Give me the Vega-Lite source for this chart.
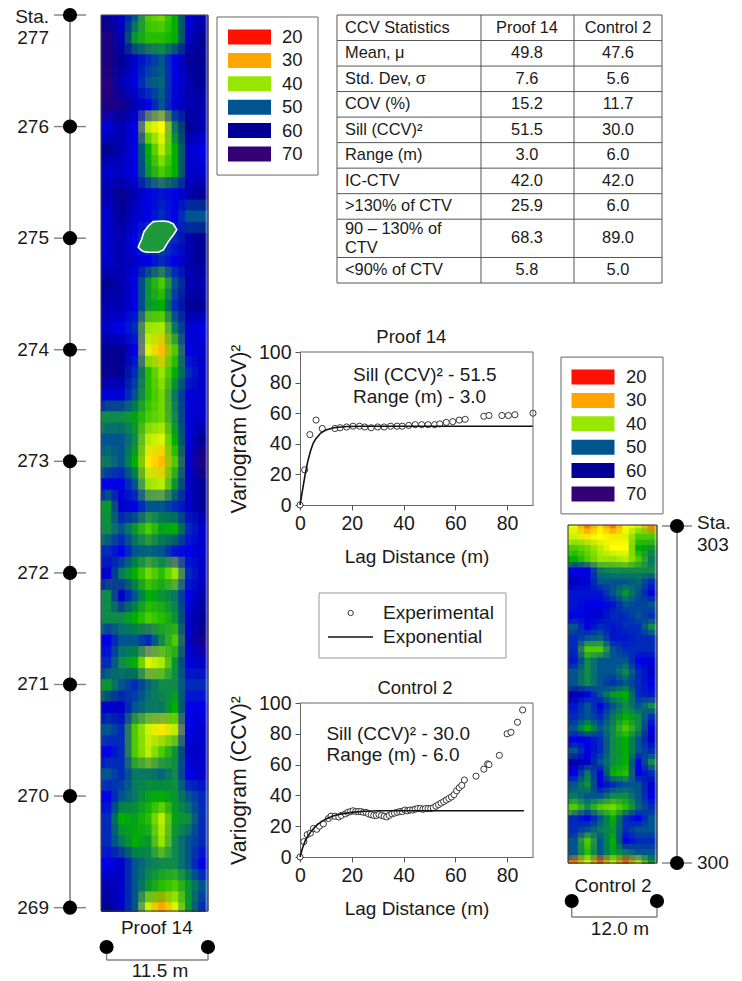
{"$schema":"https://vega.github.io/schema/vega-lite/v6.json","width":742,"height":981,"autosize":"none","padding":0,"background":"white",
"config":{"font":"Liberation Sans","view":{"stroke":null},"text":{"fontSize":19,"color":"#1a1a1a"},"axis":{"grid":false,"labelFlush":false,"labelFont":"Liberation Sans","titleFont":"Liberation Sans","labelFontSize":19.5,"titleFontSize":19,"titleFontWeight":"normal","labelColor":"#1a1a1a","titleColor":"#1a1a1a","tickColor":"#555","domainColor":"#666","tickSize":5,"labelPadding":4}},
"datasets":{
"proof":[
{"x":0.7,"y":277,"v":60},{"x":2.2,"y":277,"v":56},{"x":3.6,"y":277,"v":50},{"x":5.0,"y":277,"v":42},{"x":6.5,"y":277,"v":41},{"x":7.9,"y":277,"v":44},{"x":9.3,"y":277,"v":55},{"x":10.8,"y":277,"v":58},
{"x":0.7,"y":276.8,"v":66},{"x":2.2,"y":276.8,"v":58},{"x":3.6,"y":276.8,"v":46},{"x":5.0,"y":276.8,"v":43},{"x":6.5,"y":276.8,"v":43},{"x":7.9,"y":276.8,"v":44},{"x":9.3,"y":276.8,"v":56},{"x":10.8,"y":276.8,"v":60},
{"x":0.7,"y":276.6,"v":66},{"x":2.2,"y":276.6,"v":60},{"x":3.6,"y":276.6,"v":56},{"x":5.0,"y":276.6,"v":52},{"x":6.5,"y":276.6,"v":50},{"x":7.9,"y":276.6,"v":54},{"x":9.3,"y":276.6,"v":60},{"x":10.8,"y":276.6,"v":60},
{"x":0.7,"y":276.4,"v":68},{"x":2.2,"y":276.4,"v":58},{"x":3.6,"y":276.4,"v":54},{"x":5.0,"y":276.4,"v":50},{"x":6.5,"y":276.4,"v":49},{"x":7.9,"y":276.4,"v":54},{"x":9.3,"y":276.4,"v":58},{"x":10.8,"y":276.4,"v":60},
{"x":0.7,"y":276.2,"v":66},{"x":2.2,"y":276.2,"v":64},{"x":3.6,"y":276.2,"v":58},{"x":5.0,"y":276.2,"v":54},{"x":6.5,"y":276.2,"v":50},{"x":7.9,"y":276.2,"v":55},{"x":9.3,"y":276.2,"v":58},{"x":10.8,"y":276.2,"v":58},
{"x":0.7,"y":276,"v":55},{"x":2.2,"y":276,"v":58},{"x":3.6,"y":276,"v":54},{"x":5.0,"y":276,"v":38},{"x":6.5,"y":276,"v":34},{"x":7.9,"y":276,"v":48},{"x":9.3,"y":276,"v":60},{"x":10.8,"y":276,"v":58},
{"x":0.7,"y":275.8,"v":60},{"x":2.2,"y":275.8,"v":58},{"x":3.6,"y":275.8,"v":54},{"x":5.0,"y":275.8,"v":44},{"x":6.5,"y":275.8,"v":38},{"x":7.9,"y":275.8,"v":44},{"x":9.3,"y":275.8,"v":56},{"x":10.8,"y":275.8,"v":54},
{"x":0.7,"y":275.6,"v":56},{"x":2.2,"y":275.6,"v":56},{"x":3.6,"y":275.6,"v":54},{"x":5.0,"y":275.6,"v":46},{"x":6.5,"y":275.6,"v":42},{"x":7.9,"y":275.6,"v":44},{"x":9.3,"y":275.6,"v":56},{"x":10.8,"y":275.6,"v":56},
{"x":0.7,"y":275.4,"v":58},{"x":2.2,"y":275.4,"v":62},{"x":3.6,"y":275.4,"v":58},{"x":5.0,"y":275.4,"v":54},{"x":6.5,"y":275.4,"v":53},{"x":7.9,"y":275.4,"v":54},{"x":9.3,"y":275.4,"v":58},{"x":10.8,"y":275.4,"v":60},
{"x":0.7,"y":275.2,"v":56},{"x":2.2,"y":275.2,"v":60},{"x":3.6,"y":275.2,"v":56},{"x":5.0,"y":275.2,"v":54},{"x":6.5,"y":275.2,"v":52},{"x":7.9,"y":275.2,"v":54},{"x":9.3,"y":275.2,"v":50},{"x":10.8,"y":275.2,"v":50},
{"x":0.7,"y":275,"v":56},{"x":2.2,"y":275,"v":58},{"x":3.6,"y":275,"v":54},{"x":5.0,"y":275,"v":50},{"x":6.5,"y":275,"v":50},{"x":7.9,"y":275,"v":52},{"x":9.3,"y":275,"v":58},{"x":10.8,"y":275,"v":60},
{"x":0.7,"y":274.8,"v":56},{"x":2.2,"y":274.8,"v":58},{"x":3.6,"y":274.8,"v":56},{"x":5.0,"y":274.8,"v":54},{"x":6.5,"y":274.8,"v":52},{"x":7.9,"y":274.8,"v":54},{"x":9.3,"y":274.8,"v":58},{"x":10.8,"y":274.8,"v":60},
{"x":0.7,"y":274.6,"v":60},{"x":2.2,"y":274.6,"v":58},{"x":3.6,"y":274.6,"v":54},{"x":5.0,"y":274.6,"v":46},{"x":6.5,"y":274.6,"v":42},{"x":7.9,"y":274.6,"v":50},{"x":9.3,"y":274.6,"v":58},{"x":10.8,"y":274.6,"v":58},
{"x":0.7,"y":274.4,"v":58},{"x":2.2,"y":274.4,"v":58},{"x":3.6,"y":274.4,"v":54},{"x":5.0,"y":274.4,"v":46},{"x":6.5,"y":274.4,"v":44},{"x":7.9,"y":274.4,"v":52},{"x":9.3,"y":274.4,"v":60},{"x":10.8,"y":274.4,"v":60},
{"x":0.7,"y":274.2,"v":56},{"x":2.2,"y":274.2,"v":54},{"x":3.6,"y":274.2,"v":52},{"x":5.0,"y":274.2,"v":40},{"x":6.5,"y":274.2,"v":39},{"x":7.9,"y":274.2,"v":48},{"x":9.3,"y":274.2,"v":56},{"x":10.8,"y":274.2,"v":54},
{"x":0.7,"y":274,"v":60},{"x":2.2,"y":274,"v":60},{"x":3.6,"y":274,"v":54},{"x":5.0,"y":274,"v":36},{"x":6.5,"y":274,"v":31},{"x":7.9,"y":274,"v":42},{"x":9.3,"y":274,"v":54},{"x":10.8,"y":274,"v":56},
{"x":0.7,"y":273.8,"v":62},{"x":2.2,"y":273.8,"v":60},{"x":3.6,"y":273.8,"v":52},{"x":5.0,"y":273.8,"v":43},{"x":6.5,"y":273.8,"v":40},{"x":7.9,"y":273.8,"v":44},{"x":9.3,"y":273.8,"v":52},{"x":10.8,"y":273.8,"v":56},
{"x":0.7,"y":273.6,"v":55},{"x":2.2,"y":273.6,"v":55},{"x":3.6,"y":273.6,"v":50},{"x":5.0,"y":273.6,"v":43},{"x":6.5,"y":273.6,"v":41},{"x":7.9,"y":273.6,"v":48},{"x":9.3,"y":273.6,"v":55},{"x":10.8,"y":273.6,"v":56},
{"x":0.7,"y":273.4,"v":47},{"x":2.2,"y":273.4,"v":47},{"x":3.6,"y":273.4,"v":45},{"x":5.0,"y":273.4,"v":42},{"x":6.5,"y":273.4,"v":41},{"x":7.9,"y":273.4,"v":47},{"x":9.3,"y":273.4,"v":55},{"x":10.8,"y":273.4,"v":56},
{"x":0.7,"y":273.2,"v":50},{"x":2.2,"y":273.2,"v":50},{"x":3.6,"y":273.2,"v":47},{"x":5.0,"y":273.2,"v":38},{"x":6.5,"y":273.2,"v":36},{"x":7.9,"y":273.2,"v":44},{"x":9.3,"y":273.2,"v":55},{"x":10.8,"y":273.2,"v":60},
{"x":0.7,"y":273,"v":48},{"x":2.2,"y":273,"v":50},{"x":3.6,"y":273,"v":44},{"x":5.0,"y":273,"v":33},{"x":6.5,"y":273,"v":31},{"x":7.9,"y":273,"v":42},{"x":9.3,"y":273,"v":56},{"x":10.8,"y":273,"v":66},
{"x":0.7,"y":272.8,"v":54},{"x":2.2,"y":272.8,"v":54},{"x":3.6,"y":272.8,"v":50},{"x":5.0,"y":272.8,"v":40},{"x":6.5,"y":272.8,"v":38},{"x":7.9,"y":272.8,"v":46},{"x":9.3,"y":272.8,"v":56},{"x":10.8,"y":272.8,"v":60},
{"x":0.7,"y":272.6,"v":46},{"x":2.2,"y":272.6,"v":56},{"x":3.6,"y":272.6,"v":54},{"x":5.0,"y":272.6,"v":50},{"x":6.5,"y":272.6,"v":50},{"x":7.9,"y":272.6,"v":52},{"x":9.3,"y":272.6,"v":56},{"x":10.8,"y":272.6,"v":60},
{"x":0.7,"y":272.4,"v":47},{"x":2.2,"y":272.4,"v":50},{"x":3.6,"y":272.4,"v":46},{"x":5.0,"y":272.4,"v":42},{"x":6.5,"y":272.4,"v":45},{"x":7.9,"y":272.4,"v":44},{"x":9.3,"y":272.4,"v":52},{"x":10.8,"y":272.4,"v":56},
{"x":0.7,"y":272.2,"v":52},{"x":2.2,"y":272.2,"v":54},{"x":3.6,"y":272.2,"v":50},{"x":5.0,"y":272.2,"v":49},{"x":6.5,"y":272.2,"v":50},{"x":7.9,"y":272.2,"v":53},{"x":9.3,"y":272.2,"v":54},{"x":10.8,"y":272.2,"v":56},
{"x":0.7,"y":272,"v":56},{"x":2.2,"y":272,"v":48},{"x":3.6,"y":272,"v":44},{"x":5.0,"y":272,"v":41},{"x":6.5,"y":272,"v":43},{"x":7.9,"y":272,"v":40},{"x":9.3,"y":272,"v":52},{"x":10.8,"y":272,"v":56},
{"x":0.7,"y":271.8,"v":47},{"x":2.2,"y":271.8,"v":56},{"x":3.6,"y":271.8,"v":50},{"x":5.0,"y":271.8,"v":44},{"x":6.5,"y":271.8,"v":46},{"x":7.9,"y":271.8,"v":48},{"x":9.3,"y":271.8,"v":54},{"x":10.8,"y":271.8,"v":58},
{"x":0.7,"y":271.6,"v":47},{"x":2.2,"y":271.6,"v":47},{"x":3.6,"y":271.6,"v":44},{"x":5.0,"y":271.6,"v":42},{"x":6.5,"y":271.6,"v":43},{"x":7.9,"y":271.6,"v":46},{"x":9.3,"y":271.6,"v":56},{"x":10.8,"y":271.6,"v":60},
{"x":0.7,"y":271.4,"v":54},{"x":2.2,"y":271.4,"v":50},{"x":3.6,"y":271.4,"v":50},{"x":5.0,"y":271.4,"v":52},{"x":6.5,"y":271.4,"v":47},{"x":7.9,"y":271.4,"v":42},{"x":9.3,"y":271.4,"v":56},{"x":10.8,"y":271.4,"v":64},
{"x":0.7,"y":271.2,"v":52},{"x":2.2,"y":271.2,"v":47},{"x":3.6,"y":271.2,"v":44},{"x":5.0,"y":271.2,"v":36},{"x":6.5,"y":271.2,"v":39},{"x":7.9,"y":271.2,"v":46},{"x":9.3,"y":271.2,"v":55},{"x":10.8,"y":271.2,"v":56},
{"x":0.7,"y":271,"v":46},{"x":2.2,"y":271,"v":50},{"x":3.6,"y":271,"v":52},{"x":5.0,"y":271,"v":49},{"x":6.5,"y":271,"v":47},{"x":7.9,"y":271,"v":47},{"x":9.3,"y":271,"v":52},{"x":10.8,"y":271,"v":52},
{"x":0.7,"y":270.8,"v":56},{"x":2.2,"y":270.8,"v":56},{"x":3.6,"y":270.8,"v":50},{"x":5.0,"y":270.8,"v":48},{"x":6.5,"y":270.8,"v":48},{"x":7.9,"y":270.8,"v":44},{"x":9.3,"y":270.8,"v":54},{"x":10.8,"y":270.8,"v":54},
{"x":0.7,"y":270.6,"v":50},{"x":2.2,"y":270.6,"v":52},{"x":3.6,"y":270.6,"v":42},{"x":5.0,"y":270.6,"v":37},{"x":6.5,"y":270.6,"v":33},{"x":7.9,"y":270.6,"v":38},{"x":9.3,"y":270.6,"v":54},{"x":10.8,"y":270.6,"v":56},
{"x":0.7,"y":270.4,"v":54},{"x":2.2,"y":270.4,"v":52},{"x":3.6,"y":270.4,"v":42},{"x":5.0,"y":270.4,"v":38},{"x":6.5,"y":270.4,"v":42},{"x":7.9,"y":270.4,"v":46},{"x":9.3,"y":270.4,"v":56},{"x":10.8,"y":270.4,"v":56},
{"x":0.7,"y":270.2,"v":50},{"x":2.2,"y":270.2,"v":52},{"x":3.6,"y":270.2,"v":48},{"x":5.0,"y":270.2,"v":48},{"x":6.5,"y":270.2,"v":49},{"x":7.9,"y":270.2,"v":47},{"x":9.3,"y":270.2,"v":54},{"x":10.8,"y":270.2,"v":56},
{"x":0.7,"y":270,"v":54},{"x":2.2,"y":270,"v":50},{"x":3.6,"y":270,"v":48},{"x":5.0,"y":270,"v":45},{"x":6.5,"y":270,"v":44},{"x":7.9,"y":270,"v":46},{"x":9.3,"y":270,"v":50},{"x":10.8,"y":270,"v":52},
{"x":0.7,"y":269.8,"v":52},{"x":2.2,"y":269.8,"v":44},{"x":3.6,"y":269.8,"v":45},{"x":5.0,"y":269.8,"v":43},{"x":6.5,"y":269.8,"v":38},{"x":7.9,"y":269.8,"v":45},{"x":9.3,"y":269.8,"v":47},{"x":10.8,"y":269.8,"v":52},
{"x":0.7,"y":269.6,"v":52},{"x":2.2,"y":269.6,"v":48},{"x":3.6,"y":269.6,"v":44},{"x":5.0,"y":269.6,"v":46},{"x":6.5,"y":269.6,"v":40},{"x":7.9,"y":269.6,"v":47},{"x":9.3,"y":269.6,"v":50},{"x":10.8,"y":269.6,"v":52},
{"x":0.7,"y":269.4,"v":54},{"x":2.2,"y":269.4,"v":56},{"x":3.6,"y":269.4,"v":50},{"x":5.0,"y":269.4,"v":48},{"x":6.5,"y":269.4,"v":47},{"x":7.9,"y":269.4,"v":47},{"x":9.3,"y":269.4,"v":50},{"x":10.8,"y":269.4,"v":54},
{"x":0.7,"y":269.2,"v":58},{"x":2.2,"y":269.2,"v":56},{"x":3.6,"y":269.2,"v":50},{"x":5.0,"y":269.2,"v":46},{"x":6.5,"y":269.2,"v":43},{"x":7.9,"y":269.2,"v":42},{"x":9.3,"y":269.2,"v":46},{"x":10.8,"y":269.2,"v":50},
{"x":0.7,"y":269,"v":60},{"x":2.2,"y":269,"v":56},{"x":3.6,"y":269,"v":50},{"x":5.0,"y":269,"v":37},{"x":6.5,"y":269,"v":30},{"x":7.9,"y":269,"v":36},{"x":9.3,"y":269,"v":46},{"x":10.8,"y":269,"v":52}
],
"control":[
{"x":0.9,"y":303,"v":35},{"x":2.6,"y":303,"v":27},{"x":4.3,"y":303,"v":33},{"x":6,"y":303,"v":27},{"x":7.7,"y":303,"v":34},{"x":9.4,"y":303,"v":37},{"x":11.1,"y":303,"v":28},
{"x":0.9,"y":302.9,"v":37},{"x":2.6,"y":302.9,"v":33},{"x":4.3,"y":302.9,"v":34},{"x":6,"y":302.9,"v":33},{"x":7.7,"y":302.9,"v":36},{"x":9.4,"y":302.9,"v":42},{"x":11.1,"y":302.9,"v":42},
{"x":0.9,"y":302.8,"v":42},{"x":2.6,"y":302.8,"v":41},{"x":4.3,"y":302.8,"v":38},{"x":6,"y":302.8,"v":34},{"x":7.7,"y":302.8,"v":34},{"x":9.4,"y":302.8,"v":44},{"x":11.1,"y":302.8,"v":46},
{"x":0.9,"y":302.7,"v":44},{"x":2.6,"y":302.7,"v":42},{"x":4.3,"y":302.7,"v":40},{"x":6,"y":302.7,"v":40},{"x":7.7,"y":302.7,"v":38},{"x":9.4,"y":302.7,"v":42},{"x":11.1,"y":302.7,"v":48},
{"x":0.9,"y":302.6,"v":54},{"x":2.6,"y":302.6,"v":54},{"x":4.3,"y":302.6,"v":48},{"x":6,"y":302.6,"v":47},{"x":7.7,"y":302.6,"v":47},{"x":9.4,"y":302.6,"v":47},{"x":11.1,"y":302.6,"v":47},
{"x":0.9,"y":302.5,"v":57},{"x":2.6,"y":302.5,"v":55},{"x":4.3,"y":302.5,"v":50},{"x":6,"y":302.5,"v":50},{"x":7.7,"y":302.5,"v":50},{"x":9.4,"y":302.5,"v":49},{"x":11.1,"y":302.5,"v":52},
{"x":0.9,"y":302.4,"v":53},{"x":2.6,"y":302.4,"v":53},{"x":4.3,"y":302.4,"v":53},{"x":6,"y":302.4,"v":50},{"x":7.7,"y":302.4,"v":46},{"x":9.4,"y":302.4,"v":50},{"x":11.1,"y":302.4,"v":55},
{"x":0.9,"y":302.3,"v":53},{"x":2.6,"y":302.3,"v":54},{"x":4.3,"y":302.3,"v":54},{"x":6,"y":302.3,"v":53},{"x":7.7,"y":302.3,"v":50},{"x":9.4,"y":302.3,"v":51},{"x":11.1,"y":302.3,"v":50},
{"x":0.9,"y":302.2,"v":54},{"x":2.6,"y":302.2,"v":55},{"x":4.3,"y":302.2,"v":56},{"x":6,"y":302.2,"v":52},{"x":7.7,"y":302.2,"v":52},{"x":9.4,"y":302.2,"v":50},{"x":11.1,"y":302.2,"v":52},
{"x":0.9,"y":302.1,"v":50},{"x":2.6,"y":302.1,"v":54},{"x":4.3,"y":302.1,"v":52},{"x":6,"y":302.1,"v":53},{"x":7.7,"y":302.1,"v":52},{"x":9.4,"y":302.1,"v":52},{"x":11.1,"y":302.1,"v":47},
{"x":0.9,"y":302,"v":52},{"x":2.6,"y":302,"v":50},{"x":4.3,"y":302,"v":49},{"x":6,"y":302,"v":53},{"x":7.7,"y":302,"v":53},{"x":9.4,"y":302,"v":52},{"x":11.1,"y":302,"v":52},
{"x":0.9,"y":301.9,"v":52},{"x":2.6,"y":301.9,"v":42},{"x":4.3,"y":301.9,"v":42},{"x":6,"y":301.9,"v":50},{"x":7.7,"y":301.9,"v":52},{"x":9.4,"y":301.9,"v":52},{"x":11.1,"y":301.9,"v":52},
{"x":0.9,"y":301.8,"v":53},{"x":2.6,"y":301.8,"v":47},{"x":4.3,"y":301.8,"v":50},{"x":6,"y":301.8,"v":50},{"x":7.7,"y":301.8,"v":50},{"x":9.4,"y":301.8,"v":54},{"x":11.1,"y":301.8,"v":55},
{"x":0.9,"y":301.7,"v":50},{"x":2.6,"y":301.7,"v":47},{"x":4.3,"y":301.7,"v":50},{"x":6,"y":301.7,"v":50},{"x":7.7,"y":301.7,"v":47},{"x":9.4,"y":301.7,"v":52},{"x":11.1,"y":301.7,"v":56},
{"x":0.9,"y":301.6,"v":50},{"x":2.6,"y":301.6,"v":47},{"x":4.3,"y":301.6,"v":50},{"x":6,"y":301.6,"v":52},{"x":7.7,"y":301.6,"v":50},{"x":9.4,"y":301.6,"v":52},{"x":11.1,"y":301.6,"v":54},
{"x":0.9,"y":301.5,"v":58},{"x":2.6,"y":301.5,"v":54},{"x":4.3,"y":301.5,"v":50},{"x":6,"y":301.5,"v":46},{"x":7.7,"y":301.5,"v":44},{"x":9.4,"y":301.5,"v":52},{"x":11.1,"y":301.5,"v":53},
{"x":0.9,"y":301.4,"v":53},{"x":2.6,"y":301.4,"v":50},{"x":4.3,"y":301.4,"v":54},{"x":6,"y":301.4,"v":50},{"x":7.7,"y":301.4,"v":47},{"x":9.4,"y":301.4,"v":50},{"x":11.1,"y":301.4,"v":47},
{"x":0.9,"y":301.3,"v":52},{"x":2.6,"y":301.3,"v":50},{"x":4.3,"y":301.3,"v":52},{"x":6,"y":301.3,"v":48},{"x":7.7,"y":301.3,"v":44},{"x":9.4,"y":301.3,"v":47},{"x":11.1,"y":301.3,"v":52},
{"x":0.9,"y":301.2,"v":50},{"x":2.6,"y":301.2,"v":44},{"x":4.3,"y":301.2,"v":50},{"x":6,"y":301.2,"v":47},{"x":7.7,"y":301.2,"v":42},{"x":9.4,"y":301.2,"v":47},{"x":11.1,"y":301.2,"v":55},
{"x":0.9,"y":301.1,"v":54},{"x":2.6,"y":301.1,"v":54},{"x":4.3,"y":301.1,"v":52},{"x":6,"y":301.1,"v":47},{"x":7.7,"y":301.1,"v":44},{"x":9.4,"y":301.1,"v":50},{"x":11.1,"y":301.1,"v":56},
{"x":0.9,"y":301,"v":50},{"x":2.6,"y":301,"v":54},{"x":4.3,"y":301,"v":52},{"x":6,"y":301,"v":47},{"x":7.7,"y":301,"v":44},{"x":9.4,"y":301,"v":50},{"x":11.1,"y":301,"v":52},
{"x":0.9,"y":300.9,"v":58},{"x":2.6,"y":300.9,"v":56},{"x":4.3,"y":300.9,"v":50},{"x":6,"y":300.9,"v":47},{"x":7.7,"y":300.9,"v":44},{"x":9.4,"y":300.9,"v":54},{"x":11.1,"y":300.9,"v":47},
{"x":0.9,"y":300.8,"v":54},{"x":2.6,"y":300.8,"v":48},{"x":4.3,"y":300.8,"v":54},{"x":6,"y":300.8,"v":44},{"x":7.7,"y":300.8,"v":43},{"x":9.4,"y":300.8,"v":54},{"x":11.1,"y":300.8,"v":52},
{"x":0.9,"y":300.7,"v":50},{"x":2.6,"y":300.7,"v":46},{"x":4.3,"y":300.7,"v":55},{"x":6,"y":300.7,"v":52},{"x":7.7,"y":300.7,"v":50},{"x":9.4,"y":300.7,"v":50},{"x":11.1,"y":300.7,"v":56},
{"x":0.9,"y":300.6,"v":48},{"x":2.6,"y":300.6,"v":50},{"x":4.3,"y":300.6,"v":50},{"x":6,"y":300.6,"v":47},{"x":7.7,"y":300.6,"v":47},{"x":9.4,"y":300.6,"v":50},{"x":11.1,"y":300.6,"v":54},
{"x":0.9,"y":300.5,"v":42},{"x":2.6,"y":300.5,"v":47},{"x":4.3,"y":300.5,"v":42},{"x":6,"y":300.5,"v":41},{"x":7.7,"y":300.5,"v":43},{"x":9.4,"y":300.5,"v":49},{"x":11.1,"y":300.5,"v":52},
{"x":0.9,"y":300.4,"v":52},{"x":2.6,"y":300.4,"v":54},{"x":4.3,"y":300.4,"v":50},{"x":6,"y":300.4,"v":44},{"x":7.7,"y":300.4,"v":52},{"x":9.4,"y":300.4,"v":54},{"x":11.1,"y":300.4,"v":50},
{"x":0.9,"y":300.3,"v":52},{"x":2.6,"y":300.3,"v":50},{"x":4.3,"y":300.3,"v":48},{"x":6,"y":300.3,"v":46},{"x":7.7,"y":300.3,"v":52},{"x":9.4,"y":300.3,"v":50},{"x":11.1,"y":300.3,"v":50},
{"x":0.9,"y":300.2,"v":50},{"x":2.6,"y":300.2,"v":42},{"x":4.3,"y":300.2,"v":50},{"x":6,"y":300.2,"v":44},{"x":7.7,"y":300.2,"v":54},{"x":9.4,"y":300.2,"v":52},{"x":11.1,"y":300.2,"v":52},
{"x":0.9,"y":300.1,"v":50},{"x":2.6,"y":300.1,"v":43},{"x":4.3,"y":300.1,"v":50},{"x":6,"y":300.1,"v":45},{"x":7.7,"y":300.1,"v":48},{"x":9.4,"y":300.1,"v":50},{"x":11.1,"y":300.1,"v":50},
{"x":0.9,"y":300,"v":27},{"x":2.6,"y":300,"v":36},{"x":4.3,"y":300,"v":25},{"x":6,"y":300,"v":37},{"x":7.7,"y":300,"v":25},{"x":9.4,"y":300,"v":38},{"x":11.1,"y":300,"v":46}
],
"levels":[{"lev":20},{"lev":30},{"lev":40},{"lev":50},{"lev":60},{"lev":70}],
"exp1":[{"lag":0,"g":0},{"lag":1,"g":10},{"lag":2,"g":20},{"lag":3,"g":28.5},{"lag":4,"g":35},{"lag":5,"g":40},{"lag":6,"g":43},{"lag":8,"g":47},{"lag":10,"g":49},{"lag":13,"g":50.5},{"lag":18,"g":51.3},{"lag":25,"g":51.5},{"lag":90,"g":51.5}],
"obs1":[{"lag":0,"g":0},{"lag":1.8,"g":23},{"lag":3.8,"g":46},{"lag":6.2,"g":55.5},{"lag":8.6,"g":50},{"lag":13.5,"g":50},{"lag":15.5,"g":50.5},{"lag":18,"g":51},{"lag":20.5,"g":51.5},{"lag":23,"g":51.5},{"lag":25,"g":51},{"lag":27.5,"g":50.5},{"lag":30,"g":51},{"lag":32.5,"g":51},{"lag":35,"g":51.5},{"lag":37.5,"g":51.5},{"lag":39.5,"g":51.5},{"lag":42,"g":52},{"lag":44.5,"g":52.5},{"lag":47,"g":52.5},{"lag":49.5,"g":52.5},{"lag":52,"g":52.5},{"lag":54,"g":53},{"lag":56.5,"g":54},{"lag":59,"g":54.5},{"lag":61.5,"g":55.5},{"lag":63.8,"g":56},{"lag":71,"g":58},{"lag":73,"g":58.5},{"lag":78,"g":58.5},{"lag":80.5,"g":58.5},{"lag":83,"g":59},{"lag":90,"g":60}],
"exp2":[{"lag":0,"g":0},{"lag":1,"g":6},{"lag":2,"g":10.5},{"lag":3,"g":13.5},{"lag":4,"g":16},{"lag":6,"g":20},{"lag":8,"g":22.7},{"lag":10,"g":24.7},{"lag":13,"g":26.8},{"lag":16,"g":28},{"lag":20,"g":29},{"lag":25,"g":29.7},{"lag":30,"g":30},{"lag":86.5,"g":30}],
"obs2":[{"lag":0,"g":0},{"lag":1.5,"g":10},{"lag":2.8,"g":14.5},{"lag":4,"g":15.5},{"lag":5.2,"g":18.5},{"lag":6.5,"g":18},{"lag":7.5,"g":20},{"lag":9,"g":21.5},{"lag":11,"g":25},{"lag":12,"g":26.5},{"lag":13.5,"g":26.5},{"lag":15,"g":26},{"lag":16,"g":27},{"lag":17.5,"g":28},{"lag":18.5,"g":29},{"lag":19.5,"g":29.5},{"lag":20.5,"g":30},{"lag":21.5,"g":29.5},{"lag":22.5,"g":29.5},{"lag":23.5,"g":29.5},{"lag":24.5,"g":29},{"lag":25.5,"g":29},{"lag":26.5,"g":28},{"lag":27.5,"g":27.5},{"lag":28.5,"g":27},{"lag":29.5,"g":27},{"lag":30.5,"g":27.5},{"lag":31.5,"g":27},{"lag":32.5,"g":26.5},{"lag":33.5,"g":26},{"lag":34.5,"g":27},{"lag":35.5,"g":28},{"lag":36.5,"g":28.5},{"lag":37.5,"g":29},{"lag":38.5,"g":29.5},{"lag":39.5,"g":29.5},{"lag":40.5,"g":30.5},{"lag":41.5,"g":30},{"lag":42.5,"g":30.5},{"lag":43.5,"g":30.5},{"lag":44.5,"g":31},{"lag":45.5,"g":31.5},{"lag":46.5,"g":31.5},{"lag":47.5,"g":31},{"lag":48.5,"g":31.5},{"lag":49.5,"g":31.5},{"lag":50.5,"g":31.5},{"lag":51.5,"g":32},{"lag":52.5,"g":33},{"lag":53.5,"g":34},{"lag":54.5,"g":35},{"lag":55.5,"g":36},{"lag":56.5,"g":37},{"lag":57.5,"g":38},{"lag":58.5,"g":39},{"lag":59.5,"g":40.5},{"lag":60.5,"g":43},{"lag":61.5,"g":45},{"lag":62.5,"g":46.5},{"lag":63.5,"g":50},{"lag":68,"g":52.5},{"lag":71,"g":57},{"lag":72.5,"g":60.5},{"lag":73,"g":60},{"lag":77,"g":66},{"lag":80,"g":80},{"lag":81.5,"g":81},{"lag":84,"g":87.5},{"lag":86,"g":95.5}]
},
"resolve":{"scale":{"x":"independent","y":"independent"},"axis":{"x":"independent","y":"independent"}},
"layer":[
{"layer":[
{"data":{"values":[{"s":277},{"s":269}]},"mark":{"type":"line","color":"#808080","strokeWidth":1.6},"encoding":{"x":{"datum":0,"scale":{"domain":[-1,1],"range":[54,86],"nice":false,"zero":false},"axis":null},"y":{"field":"s","type":"quantitative","scale":{"domain":[268.97,277],"range":[911,15],"nice":false,"zero":false},"axis":null}}},
{"data":{"values":[{"s":277},{"s":276},{"s":275},{"s":274},{"s":273},{"s":272},{"s":271},{"s":270},{"s":269}]},"layer":[
{"mark":{"type":"tick","orient":"horizontal","color":"#808080","size":32,"thickness":1.4,"opacity":1},"encoding":{"x":{"datum":0,"axis":null},"y":{"field":"s","type":"quantitative","axis":null}}},
{"mark":{"type":"circle","color":"black","size":200,"opacity":1},"encoding":{"x":{"datum":0,"axis":null},"y":{"field":"s","type":"quantitative","axis":null}}}]},
{"data":{"values":[{"s":276.98,"t":"Sta."},{"s":276.79,"t":"277"},{"s":276,"t":"276"},{"s":275,"t":"275"},{"s":274,"t":"274"},{"s":273,"t":"273"},{"s":272,"t":"272"},{"s":271,"t":"271"},{"s":270,"t":"270"},{"s":269,"t":"269"}]},"mark":{"type":"text","align":"right","baseline":"middle","dx":-5},"encoding":{"x":{"datum":-1,"axis":null},"y":{"field":"s","type":"quantitative","axis":null},"text":{"field":"t"}}}
]},
{"layer":[
{"data":{"name":"proof"},"mark":{"type":"rect","binSpacing":0,"strokeWidth":0.7},"encoding":{
"x":{"field":"x","type":"quantitative","bin":{"step":1.4375,"extent":[-0.359375,11.140625],"nice":false},"scale":{"domain":[0,11.5],"range":[101,208],"clamp":true,"nice":false,"zero":false},"axis":null},
"y":{"field":"y","type":"quantitative","bin":{"step":0.2,"extent":[268.85,277.25],"nice":false},"scale":{"domain":[268.97,277],"range":[911,15],"clamp":true,"nice":false,"zero":false},"axis":null},
"color":{"aggregate":"mean","field":"v","type":"quantitative","legend":null,"scale":{"domain":[20,30,34,40,44,47,50,54,60,70],"range":["#ff1000","#ffa500","#ffff00","#99e600","#00b000","#0f8a4a","#00558f","#0000e6","#000096","#330077"],"interpolate":"rgb"}},
"stroke":{"aggregate":"mean","field":"v","type":"quantitative","legend":null,"scale":{"domain":[20,30,34,40,44,47,50,54,60,70],"range":["#ff1000","#ffa500","#ffff00","#99e600","#00b000","#0f8a4a","#00558f","#0000e6","#000096","#330077"],"interpolate":"rgb"}}}},
{"data":{"name":"proof"},"mark":{"type":"rect","binSpacing":0,"opacity":0.5,"stroke":null},"encoding":{
"x":{"field":"x","type":"quantitative","bin":{"step":1.4375,"extent":[0.359375,11.859375],"nice":false},"axis":null},
"y":{"field":"y","type":"quantitative","bin":{"step":0.2,"extent":[268.85,277.25],"nice":false},"axis":null},
"color":{"aggregate":"mean","field":"v","type":"quantitative","legend":null}}},
{"data":{"name":"proof"},"mark":{"type":"rect","binSpacing":0,"opacity":0.333,"stroke":null},"encoding":{
"x":{"field":"x","type":"quantitative","bin":{"step":1.4375,"extent":[-0.359375,11.140625],"nice":false},"axis":null},
"y":{"field":"y","type":"quantitative","bin":{"step":0.2,"extent":[268.95,277.15],"nice":false},"axis":null},
"color":{"aggregate":"mean","field":"v","type":"quantitative","legend":null}}},
{"data":{"name":"proof"},"mark":{"type":"rect","binSpacing":0,"opacity":0.25,"stroke":null},"encoding":{
"x":{"field":"x","type":"quantitative","bin":{"step":1.4375,"extent":[0.359375,11.859375],"nice":false},"axis":null},
"y":{"field":"y","type":"quantitative","bin":{"step":0.2,"extent":[268.95,277.15],"nice":false},"axis":null},
"color":{"aggregate":"mean","field":"v","type":"quantitative","legend":null}}},
{"data":{"values":[{"m":4.01,"a":274.924,"b":274.918},{"m":4.37,"a":274.99,"b":274.888},{"m":4.62,"a":275.058,"b":274.879},{"m":5.09,"a":275.109,"b":274.874},{"m":5.62,"a":275.148,"b":274.874},{"m":6.16,"a":275.151,"b":274.874},{"m":6.7,"a":275.154,"b":274.894},{"m":7.23,"a":275.148,"b":274.969},{"m":7.77,"a":275.127,"b":275.029},{"m":8.13,"a":275.08,"b":275.074}]},"mark":{"type":"area","color":"#1f9a3a","stroke":"white","strokeWidth":1.6},"encoding":{"x":{"field":"m","type":"quantitative","axis":null},"y":{"field":"a","type":"quantitative","axis":null},"y2":{"field":"b"}}},
{"data":{"values":[{"a":1}]},"mark":{"type":"rect","filled":false,"stroke":"#333","strokeWidth":1},"encoding":{"x":{"datum":0,"axis":null},"x2":{"datum":11.5},"y":{"datum":268.97,"axis":null},"y2":{"datum":277}}}
]},
{"layer":[
{"data":{"values":[{"m":0.6},{"m":11.5}]},"layer":[
{"mark":{"type":"rule","color":"#808080","strokeWidth":1.4},"encoding":{"x":{"field":"m","type":"quantitative","scale":{"domain":[0,11.5],"range":[101,208],"nice":false,"zero":false},"axis":null},"y":{"datum":36,"scale":{"domain":[0,70],"range":[911,981],"nice":false,"zero":false},"axis":null},"y2":{"datum":49}}},
{"mark":{"type":"circle","color":"black","size":200,"opacity":1},"encoding":{"x":{"field":"m","type":"quantitative","axis":null},"y":{"datum":36,"axis":null}}}]},
{"data":{"values":[{"a":1}]},"mark":{"type":"rule","color":"#808080","strokeWidth":1.4},"encoding":{"x":{"datum":0.6,"axis":null},"x2":{"datum":11.5},"y":{"datum":49,"axis":null}}},
{"data":{"values":[{"m":6,"l":17,"t":"Proof 14"},{"m":6.34,"l":60,"t":"11.5 m"}]},"mark":{"type":"text","align":"center","baseline":"middle"},"encoding":{"x":{"field":"m","type":"quantitative","axis":null},"y":{"field":"l","type":"quantitative","axis":null},"text":{"field":"t"}}}
]},
{"data":{"name":"levels"},"layer":[
{"data":{"values":[{"a":1}]},"mark":{"type":"rect","filled":false,"stroke":"#666","strokeWidth":1},"encoding":{"x":{"datum":0,"scale":{"domain":[0,101],"range":[217,318],"nice":false,"zero":false},"axis":null},"x2":{"datum":101},"y":{"datum":11.45,"scale":{"domain":[20,70],"range":[37,154],"nice":false,"zero":false},"axis":null},"y2":{"datum":79}}},
{"mark":{"type":"tick","orient":"horizontal","size":43,"thickness":15,"opacity":1},"encoding":{"x":{"datum":32.5,"axis":null},"y":{"field":"lev","type":"quantitative","axis":null},"color":{"field":"lev","type":"quantitative","legend":null,"scale":{"domain":[20,30,34,40,44,47,50,54,60,70],"range":["#ff1000","#ffa500","#ffff00","#99e600","#00b000","#0f8a4a","#00558f","#0000e6","#000096","#330077"],"interpolate":"rgb"}}}},
{"mark":{"type":"text","align":"left","baseline":"middle","fontSize":18.5},"encoding":{"x":{"datum":65,"axis":null},"y":{"field":"lev","type":"quantitative","axis":null},"text":{"field":"lev"}}}
]},
{"layer":[
{"data":{"values":[{"r":0},{"r":1},{"r":2},{"r":3},{"r":4},{"r":5},{"r":6},{"r":7},{"r":8},{"r":9.5},{"r":10.5}]},"mark":{"type":"rule","color":"#555","strokeWidth":1},"encoding":{"x":{"datum":0,"scale":{"domain":[0,325],"range":[337,662],"nice":false,"zero":false},"axis":null},"x2":{"datum":325},"y":{"field":"r","type":"quantitative","scale":{"domain":[0,10.5],"range":[15,283],"nice":false,"zero":false},"axis":null}}},
{"data":{"values":[{"c":0},{"c":144},{"c":237},{"c":325}]},"mark":{"type":"rule","color":"#555","strokeWidth":1},"encoding":{"x":{"field":"c","type":"quantitative","axis":null},"y":{"datum":0,"axis":null},"y2":{"datum":10.5}}},
{"data":{"values":[{"r":0.5,"t":"CCV Statistics"},{"r":1.5,"t":"Mean, μ"},{"r":2.5,"t":"Std. Dev, σ"},{"r":3.5,"t":"COV (%)"},{"r":4.5,"t":"Sill (CCV)²"},{"r":5.5,"t":"Range (m)"},{"r":6.5,"t":"IC-CTV"},{"r":7.5,"t":">130% of CTV"},{"r":8.39,"t":"90 – 130% of"},{"r":9.14,"t":"CTV"},{"r":10,"t":"<90% of CTV"}]},"mark":{"type":"text","align":"left","baseline":"middle","fontSize":16.4},"encoding":{"x":{"datum":8,"axis":null},"y":{"field":"r","type":"quantitative","axis":null},"text":{"field":"t"}}},
{"data":{"values":[{"r":0.5,"c":190,"t":"Proof 14"},{"r":0.5,"c":281,"t":"Control 2"},{"r":1.5,"c":190,"t":"49.8"},{"r":1.5,"c":281,"t":"47.6"},{"r":2.5,"c":190,"t":"7.6"},{"r":2.5,"c":281,"t":"5.6"},{"r":3.5,"c":190,"t":"15.2"},{"r":3.5,"c":281,"t":"11.7"},{"r":4.5,"c":190,"t":"51.5"},{"r":4.5,"c":281,"t":"30.0"},{"r":5.5,"c":190,"t":"3.0"},{"r":5.5,"c":281,"t":"6.0"},{"r":6.5,"c":190,"t":"42.0"},{"r":6.5,"c":281,"t":"42.0"},{"r":7.5,"c":190,"t":"25.9"},{"r":7.5,"c":281,"t":"6.0"},{"r":8.75,"c":190,"t":"68.3"},{"r":8.75,"c":281,"t":"89.0"},{"r":10,"c":190,"t":"5.8"},{"r":10,"c":281,"t":"5.0"}]},"mark":{"type":"text","align":"center","baseline":"middle","fontSize":16.4},"encoding":{"x":{"field":"c","type":"quantitative","axis":null},"y":{"field":"r","type":"quantitative","axis":null},"text":{"field":"t"}}}
]},
{"layer":[
{"data":{"name":"obs1"},"mark":{"type":"point","shape":"circle","filled":false,"stroke":"#222","fill":"white","fillOpacity":1,"strokeWidth":0.9,"size":38,"opacity":1},"encoding":{
"x":{"field":"lag","type":"quantitative","scale":{"domain":[0,90],"range":[300,533],"nice":false,"zero":false},"axis":{"orient":"bottom","offset":-476,"values":[0,20,40,60,80],"title":"Lag Distance (m)","titlePadding":15}},
"y":{"field":"g","type":"quantitative","scale":{"domain":[0,100],"range":[505,352],"nice":false,"zero":false},"axis":{"orient":"left","offset":-300,"values":[0,20,40,60,80,100],"title":"Variogram (CCV)²","titleFontSize":21.3,"titlePadding":9}}}},
{"data":{"name":"exp1"},"mark":{"type":"line","color":"#111","strokeWidth":1.6},"encoding":{"x":{"field":"lag","type":"quantitative"},"y":{"field":"g","type":"quantitative"}}},
{"data":{"values":[{"lag":20.5,"g":85,"t":"Sill (CCV)² - 51.5"},{"lag":20.5,"g":70.6,"t":"Range (m) - 3.0"}]},"mark":{"type":"text","align":"left","baseline":"middle","fontSize":19},"encoding":{"x":{"field":"lag","type":"quantitative"},"y":{"field":"g","type":"quantitative"},"text":{"field":"t"}}},
{"data":{"values":[{"lag":43,"g":110,"t":"Proof 14"}]},"mark":{"type":"text","align":"center","baseline":"middle","fontSize":18.5},"encoding":{"x":{"field":"lag","type":"quantitative"},"y":{"field":"g","type":"quantitative"},"text":{"field":"t"}}},
{"data":{"values":[{"lag":0,"g":100},{"lag":90,"g":100},{"lag":90,"g":0}]},"mark":{"type":"line","color":"#666","strokeWidth":1},"encoding":{"x":{"field":"lag","type":"quantitative"},"y":{"field":"g","type":"quantitative"},"order":{"field":"lag"}}}
]},
{"layer":[
{"data":{"name":"obs2"},"mark":{"type":"point","shape":"circle","filled":false,"stroke":"#222","fill":"white","fillOpacity":1,"strokeWidth":0.9,"size":38,"opacity":1},"encoding":{
"x":{"field":"lag","type":"quantitative","scale":{"domain":[0,90],"range":[300,533],"nice":false,"zero":false},"axis":{"orient":"bottom","offset":-124,"values":[0,20,40,60,80],"title":"Lag Distance (m)","titlePadding":15}},
"y":{"field":"g","type":"quantitative","scale":{"domain":[0,100],"range":[857,703],"nice":false,"zero":false},"axis":{"orient":"left","offset":-300,"values":[0,20,40,60,80,100],"title":"Variogram (CCV)²","titleFontSize":21.3,"titlePadding":9}}}},
{"data":{"name":"exp2"},"mark":{"type":"line","color":"#111","strokeWidth":1.6},"encoding":{"x":{"field":"lag","type":"quantitative"},"y":{"field":"g","type":"quantitative"}}},
{"data":{"values":[{"lag":10.2,"g":80,"t":"Sill (CCV)² - 30.0"},{"lag":10.2,"g":66,"t":"Range (m) - 6.0"}]},"mark":{"type":"text","align":"left","baseline":"middle","fontSize":19},"encoding":{"x":{"field":"lag","type":"quantitative"},"y":{"field":"g","type":"quantitative"},"text":{"field":"t"}}},
{"data":{"values":[{"lag":44.4,"g":110,"t":"Control 2"}]},"mark":{"type":"text","align":"center","baseline":"middle","fontSize":18.5},"encoding":{"x":{"field":"lag","type":"quantitative"},"y":{"field":"g","type":"quantitative"},"text":{"field":"t"}}},
{"data":{"values":[{"lag":0,"g":100},{"lag":90,"g":100},{"lag":90,"g":0}]},"mark":{"type":"line","color":"#666","strokeWidth":1},"encoding":{"x":{"field":"lag","type":"quantitative"},"y":{"field":"g","type":"quantitative"},"order":{"field":"lag"}}}
]},
{"layer":[
{"data":{"values":[{"a":1}]},"mark":{"type":"rect","filled":false,"stroke":"#999","strokeWidth":1},"encoding":{"x":{"datum":0,"scale":{"domain":[0,187],"range":[319,506],"nice":false,"zero":false},"axis":null},"x2":{"datum":187},"y":{"datum":0,"scale":{"domain":[0,65],"range":[593,658],"nice":false,"zero":false},"axis":null},"y2":{"datum":65}}},
{"data":{"values":[{"a":1}]},"mark":{"type":"point","shape":"circle","filled":false,"stroke":"#222","strokeWidth":0.9,"size":28,"opacity":1},"encoding":{"x":{"datum":31.7,"axis":null},"y":{"datum":20,"axis":null}}},
{"data":{"values":[{"a":1}]},"mark":{"type":"rule","color":"#111","strokeWidth":1.6},"encoding":{"x":{"datum":9,"axis":null},"x2":{"datum":54},"y":{"datum":44,"axis":null}}},
{"data":{"values":[{"l":20,"t":"Experimental"},{"l":44,"t":"Exponential"}]},"mark":{"type":"text","align":"left","baseline":"middle","fontSize":19},"encoding":{"x":{"datum":64,"axis":null},"y":{"field":"l","type":"quantitative","axis":null},"text":{"field":"t"}}}
]},
{"data":{"name":"levels"},"layer":[
{"data":{"values":[{"a":1}]},"mark":{"type":"rect","filled":false,"stroke":"#666","strokeWidth":1},"encoding":{"x":{"datum":0,"scale":{"domain":[0,102],"range":[561,663],"nice":false,"zero":false},"axis":null},"x2":{"datum":102},"y":{"datum":11.5,"scale":{"domain":[20,70],"range":[377,494],"nice":false,"zero":false},"axis":null},"y2":{"datum":78.5}}},
{"mark":{"type":"tick","orient":"horizontal","size":43,"thickness":15,"opacity":1},"encoding":{"x":{"datum":32,"axis":null},"y":{"field":"lev","type":"quantitative","axis":null},"color":{"field":"lev","type":"quantitative","legend":null,"scale":{"domain":[20,30,34,40,44,47,50,54,60,70],"range":["#ff1000","#ffa500","#ffff00","#99e600","#00b000","#0f8a4a","#00558f","#0000e6","#000096","#330077"],"interpolate":"rgb"}}}},
{"mark":{"type":"text","align":"left","baseline":"middle","fontSize":18.5},"encoding":{"x":{"datum":65,"axis":null},"y":{"field":"lev","type":"quantitative","axis":null},"text":{"field":"lev"}}}
]},
{"layer":[
{"data":{"name":"control"},"mark":{"type":"rect","binSpacing":0,"strokeWidth":0.7},"encoding":{
"x":{"field":"x","type":"quantitative","bin":{"step":1.7142857,"extent":[-0.4285714,11.5714285],"nice":false},"scale":{"domain":[0,12],"range":[568,657],"clamp":true,"nice":false,"zero":false},"axis":null},
"y":{"field":"y","type":"quantitative","bin":{"step":0.1,"extent":[299.925,303.125],"nice":false},"scale":{"domain":[300,303],"range":[863,525],"clamp":true,"nice":false,"zero":false},"axis":null},
"color":{"aggregate":"mean","field":"v","type":"quantitative","legend":null,"scale":{"domain":[20,30,34,40,44,47,50,54,60,70],"range":["#ff1000","#ffa500","#ffff00","#99e600","#00b000","#0f8a4a","#00558f","#0000e6","#000096","#330077"],"interpolate":"rgb"}},
"stroke":{"aggregate":"mean","field":"v","type":"quantitative","legend":null,"scale":{"domain":[20,30,34,40,44,47,50,54,60,70],"range":["#ff1000","#ffa500","#ffff00","#99e600","#00b000","#0f8a4a","#00558f","#0000e6","#000096","#330077"],"interpolate":"rgb"}}}},
{"data":{"name":"control"},"mark":{"type":"rect","binSpacing":0,"opacity":0.5,"stroke":null},"encoding":{
"x":{"field":"x","type":"quantitative","bin":{"step":1.7142857,"extent":[0.4285714,12.4285713],"nice":false},"axis":null},
"y":{"field":"y","type":"quantitative","bin":{"step":0.1,"extent":[299.925,303.125],"nice":false},"axis":null},
"color":{"aggregate":"mean","field":"v","type":"quantitative","legend":null}}},
{"data":{"name":"control"},"mark":{"type":"rect","binSpacing":0,"opacity":0.333,"stroke":null},"encoding":{
"x":{"field":"x","type":"quantitative","bin":{"step":1.7142857,"extent":[-0.4285714,11.5714285],"nice":false},"axis":null},
"y":{"field":"y","type":"quantitative","bin":{"step":0.1,"extent":[299.975,303.175],"nice":false},"axis":null},
"color":{"aggregate":"mean","field":"v","type":"quantitative","legend":null}}},
{"data":{"name":"control"},"mark":{"type":"rect","binSpacing":0,"opacity":0.25,"stroke":null},"encoding":{
"x":{"field":"x","type":"quantitative","bin":{"step":1.7142857,"extent":[0.4285714,12.4285713],"nice":false},"axis":null},
"y":{"field":"y","type":"quantitative","bin":{"step":0.1,"extent":[299.975,303.175],"nice":false},"axis":null},
"color":{"aggregate":"mean","field":"v","type":"quantitative","legend":null}}},
{"data":{"values":[{"a":1}]},"mark":{"type":"rect","filled":false,"stroke":"#222","strokeWidth":1},"encoding":{"x":{"datum":0,"axis":null},"x2":{"datum":12},"y":{"datum":300,"axis":null},"y2":{"datum":303}}}
]},
{"layer":[
{"data":{"values":[{"m":0.5},{"m":12}]},"layer":[
{"mark":{"type":"rule","color":"#808080","strokeWidth":1.4},"encoding":{"x":{"field":"m","type":"quantitative","scale":{"domain":[0,12],"range":[568,657],"nice":false,"zero":false},"axis":null},"y":{"datum":38,"scale":{"domain":[0,70],"range":[863,933],"nice":false,"zero":false},"axis":null},"y2":{"datum":54}}},
{"mark":{"type":"circle","color":"black","size":200,"opacity":1},"encoding":{"x":{"field":"m","type":"quantitative","axis":null},"y":{"datum":38,"axis":null}}}]},
{"data":{"values":[{"a":1}]},"mark":{"type":"rule","color":"#808080","strokeWidth":1.4},"encoding":{"x":{"datum":0.5,"axis":null},"x2":{"datum":12},"y":{"datum":54,"axis":null}}},
{"data":{"values":[{"m":6.07,"l":23,"t":"Control 2"},{"m":7,"l":66,"t":"12.0 m"}]},"mark":{"type":"text","align":"center","baseline":"middle"},"encoding":{"x":{"field":"m","type":"quantitative","axis":null},"y":{"field":"l","type":"quantitative","axis":null},"text":{"field":"t"}}}
]},
{"layer":[
{"data":{"values":[{"s":303},{"s":300}]},"mark":{"type":"line","color":"#808080","strokeWidth":1.6},"encoding":{"x":{"datum":0,"scale":{"domain":[-1,1],"range":[662,692],"nice":false,"zero":false},"axis":null},"y":{"field":"s","type":"quantitative","scale":{"domain":[300,303],"range":[863,526],"nice":false,"zero":false},"axis":null}}},
{"data":{"values":[{"s":303},{"s":300}]},"layer":[
{"mark":{"type":"tick","orient":"horizontal","color":"#808080","size":30,"thickness":1.4,"opacity":1},"encoding":{"x":{"datum":0,"axis":null},"y":{"field":"s","type":"quantitative","axis":null}}},
{"mark":{"type":"circle","color":"black","size":200,"opacity":1},"encoding":{"x":{"datum":0,"axis":null},"y":{"field":"s","type":"quantitative","axis":null}}}]},
{"data":{"values":[{"s":303.03,"t":"Sta."},{"s":302.83,"t":"303"},{"s":300,"t":"300"}]},"mark":{"type":"text","align":"left","baseline":"middle","dx":5},"encoding":{"x":{"datum":1,"axis":null},"y":{"field":"s","type":"quantitative","axis":null},"text":{"field":"t"}}}
]}
]}
